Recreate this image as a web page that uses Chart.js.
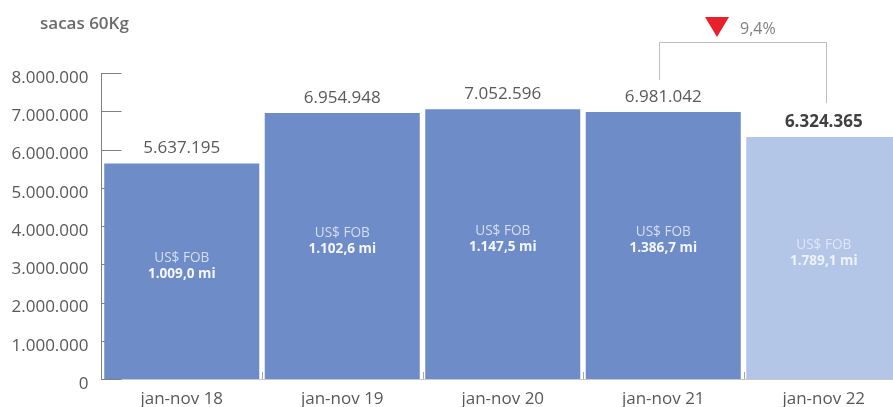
<!DOCTYPE html>
<html>
<head>
<meta charset="utf-8">
<script src="https://cdn.jsdelivr.net/npm/chart.js@4/dist/chart.umd.min.js"></script>
<style>
  html, body { margin: 0; padding: 0; background: #fff; overflow: hidden; }
  #wrap { position: relative; width: 904px; height: 407px; }
</style>
</head>
<body>
<div id="wrap"><canvas id="chart"></canvas></div>
<script>
'use strict';

// periods shown on the x axis
const categories = ['jan-nov 18', 'jan-nov 19', 'jan-nov 20', 'jan-nov 21', 'jan-nov 22'];
// exported volume, 60 kg bags
const volumes = [5637195, 6954948, 7052596, 6981042, 6324365];
// revenue, US$ FOB million
const fobValues = [1009.0, 1102.6, 1147.5, 1386.7, 1789.1];
// y axis ticks
const yTicks = [0, 1000000, 2000000, 3000000, 4000000, 5000000, 6000000, 7000000, 8000000];
// change of the last period against the previous one, %
const variation = -9.4;

const unitLabel = 'sacas 60Kg';
const barColors = ['#6e8cc8', '#6e8cc8', '#6e8cc8', '#6e8cc8', '#b4c6e7'];

function fmtInt(n) {
    return String(Math.round(n)).replace(/\B(?=(\d{3})+(?!\d))/g, '.');
}
function fmtDec(n) {
    let parts = n.toFixed(1).split('.');
    return parts[0].replace(/\B(?=(\d{3})+(?!\d))/g, '.') + ',' + parts[1];
}

const FONT = "'Open Sans', 'Noto Sans', sans-serif";
Chart.defaults.font.family = FONT;

const annotPlugin = {
    id: 'annot',
    beforeDatasetsDraw(chart) {
        const ctx = chart.ctx;
        const x = chart.scales.x, y = chart.scales.y;
        ctx.save();
        // short y ticks drawn inward
        ctx.strokeStyle = '#808080';
        ctx.lineWidth = 1;
        yTicks.forEach(v => {
            let py = Math.round(y.getPixelForValue(v)) + 0.5;
            ctx.beginPath();
            ctx.moveTo(chart.chartArea.left, py);
            ctx.lineTo(chart.chartArea.left + 20, py);
            ctx.stroke();
        });
        // small category separators on the x axis
        ctx.strokeStyle = '#a6a6a6';
        for (let i = 1; i < categories.length; i++) {
            let px = Math.round((x.getPixelForValue(i - 1) + x.getPixelForValue(i)) / 2) + 0.5;
            ctx.beginPath();
            ctx.moveTo(px, chart.chartArea.bottom);
            ctx.lineTo(px, chart.chartArea.bottom - 7);
            ctx.stroke();
        }
        ctx.restore();
    },
    afterDatasetsDraw(chart) {
        const ctx = chart.ctx;
        const x = chart.scales.x, y = chart.scales.y;
        const last = volumes.length - 1;
        ctx.save();
        ctx.textAlign = 'center';
        ctx.textBaseline = 'middle';

        volumes.forEach((v, i) => {
            let cx = x.getPixelForValue(i);
            let top = y.getPixelForValue(v);
            let mid = (top + y.getPixelForValue(0)) / 2 - 5;
            // value above bar
            ctx.font = (i === last ? 'bold ' : '') + '17px ' + FONT;
            ctx.fillStyle = i === last ? '#404040' : '#595959';
            ctx.fillText(fmtInt(v), cx, top - 15);
            // FOB inside bar
            ctx.font = '13.6px ' + FONT;
            ctx.fillStyle = i === last ? '#dfe6f4' : '#d6def0';
            ctx.fillText('US$ FOB', cx, mid - 8);
            ctx.font = 'bold 13.6px ' + FONT;
            ctx.fillStyle = i === last ? '#eef2f9' : '#f4f6fb';
            ctx.fillText(fmtDec(fobValues[i]) + ' mi', cx, mid + 8);
        });

        // bracket between the last two bars
        let lx = Math.round(x.getPixelForValue(last - 1) - 4) + 0.5;
        let rx = Math.round(x.getPixelForValue(last) + 2) + 0.5;
        let by = 42.5;
        ctx.strokeStyle = '#bfbfbf';
        ctx.lineWidth = 1;
        ctx.beginPath();
        ctx.moveTo(lx, y.getPixelForValue(volumes[last - 1]) - 32);
        ctx.lineTo(lx, by);
        ctx.lineTo(rx, by);
        ctx.lineTo(rx, y.getPixelForValue(volumes[last]) - 34);
        ctx.stroke();

        let m = (lx + rx) / 2;
        ctx.fillStyle = '#e8202a';
        ctx.beginPath();
        if (variation < 0) {
            ctx.moveTo(m - 38, 17);
            ctx.lineTo(m - 14, 17);
            ctx.lineTo(m - 26, 37);
        } else {
            ctx.moveTo(m - 38, 37);
            ctx.lineTo(m - 14, 37);
            ctx.lineTo(m - 26, 17);
        }
        ctx.closePath();
        ctx.fill();

        ctx.textAlign = 'left';
        ctx.font = '16px ' + FONT;
        ctx.fillStyle = '#808080';
        ctx.fillText(fmtDec(Math.abs(variation)) + '%', m - 3, 29);

        // unit title
        ctx.font = '600 17px ' + FONT;
        ctx.fillStyle = '#6b6b6b';
        ctx.fillText(unitLabel, 40, 24);
        ctx.restore();
    }
};

const data = {
    labels: categories,
    datasets: [{
        data: volumes,
        backgroundColor: barColors,
        borderWidth: 0,
        categoryPercentage: 1,
        barPercentage: 0.966
    }]
};

const config = {
    type: 'bar',
    data: data,
    options: {
        responsive: true,
        maintainAspectRatio: false,
        animation: false,
        devicePixelRatio: 1,
        layout: { padding: { top: 73, left: 0, right: 0, bottom: 0 } },
        plugins: {
            legend: { display: false },
            tooltip: { enabled: false }
        },
        scales: {
            x: {
                grid: { display: false, drawTicks: false },
                border: { display: true, color: '#c8c8c8', width: 1 },
                ticks: { color: '#595959', font: { size: 17 }, padding: 10, maxRotation: 0 },
                afterFit(scale) { scale.height = 28; }
            },
            y: {
                min: 0,
                max: 8000000,
                afterBuildTicks(scale) { scale.ticks = yTicks.map(v => ({ value: v })); },
                grid: { display: false, drawTicks: false },
                border: { display: true, color: '#808080', width: 1 },
                ticks: {
                    color: '#595959',
                    font: { size: 17 },
                    padding: 13,
                    labelOffset: 5,
                    callback: v => fmtInt(v)
                },
                afterFit(scale) { scale.width = 101.5; }
            }
        }
    },
    plugins: [annotPlugin]
};

var myChart = new Chart(document.getElementById('chart'), config);
</script>
</body>
</html>
